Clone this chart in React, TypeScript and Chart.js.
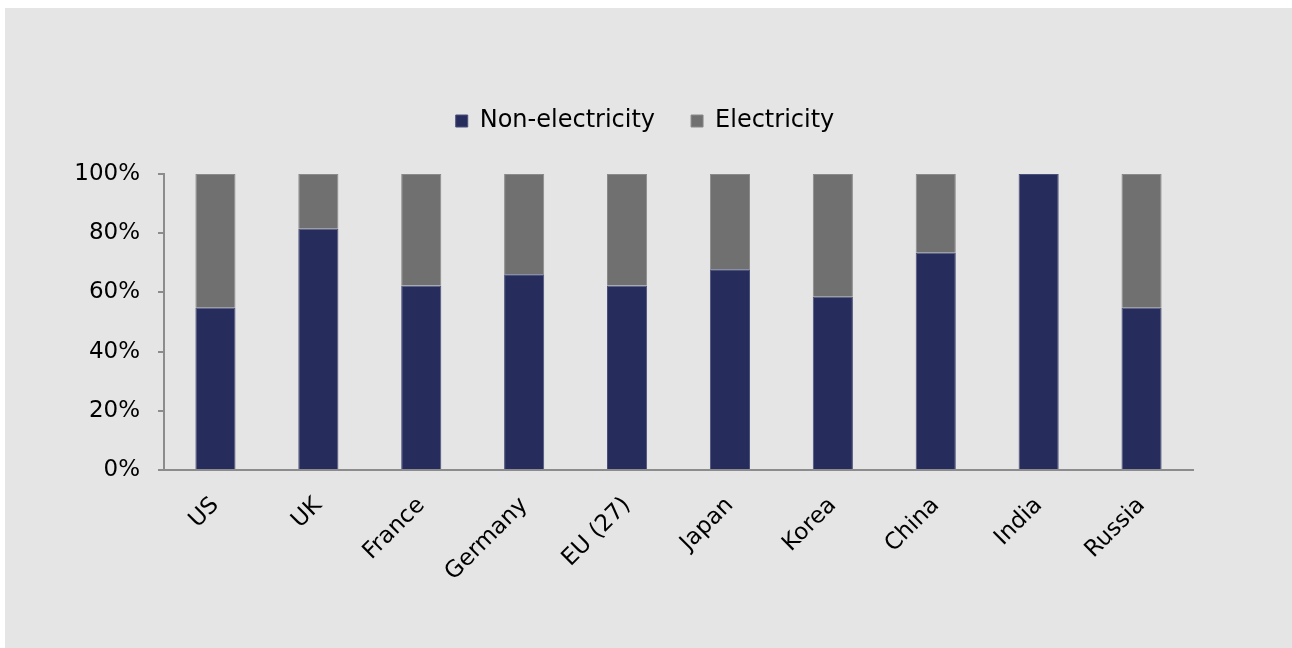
import { useEffect, useRef } from "react";
import { Chart, registerables } from "chart.js";

Chart.register(...registerables);

const categories = ["US", "UK", "France", "Germany", "EU (27)", "Japan", "Korea", "China", "India", "Russia"];
const nonElectricity = [54.8, 81.5, 62.3, 66.1, 62.3, 67.8, 58.5, 73.4, 100, 54.8];
const electricity = [45.2, 18.5, 37.7, 33.9, 37.7, 32.2, 41.5, 26.6, 0, 45.2];
const yTicks = [0, 20, 40, 60, 80, 100];

const FONT = "'DejaVu Sans', sans-serif";
const LEGEND_EXTRA = 31;
const LEGEND_SHIFT_X = 46;

const legendSpacer = {
  id: "legendSpacer",
  beforeUpdate(chart: any) {
    const lg = chart.legend;
    if (lg && !lg._spacerPatched) {
      const orig = lg.fit;
      lg.fit = function (this: any) {
        orig.call(this);
        this.height += LEGEND_EXTRA;
      };
      lg._spacerPatched = true;
    }
  },
  afterLayout(chart: any) {
    const lg = chart.legend;
    if (lg) {
      lg.left += LEGEND_SHIFT_X;
      lg.right += LEGEND_SHIFT_X;
    }
  },
};

export default function App() {
  const ref = useRef<HTMLCanvasElement | null>(null);

  useEffect(() => {
    if (!ref.current) return;
    const chart = new Chart(ref.current, {
      type: "bar",
      plugins: [legendSpacer],
      data: {
        labels: categories,
        datasets: [
          {
            label: "Non-electricity",
            data: nonElectricity,
            backgroundColor: "#262c5c",
            borderColor: "#4a507a",
            borderWidth: 1,
            categoryPercentage: 1,
            barPercentage: 0.39,
          },
          {
            label: "Electricity",
            data: electricity,
            backgroundColor: "#707070",
            borderColor: "#8a8a8a",
            borderWidth: 1,
            categoryPercentage: 1,
            barPercentage: 0.39,
          },
        ],
      },
      options: {
        animation: false,
        responsive: false,
        maintainAspectRatio: false,
        layout: { padding: { top: 65, right: 99, bottom: 0, left: 0 } },
        plugins: {
          tooltip: { enabled: false },
          legend: {
            position: "top",
            labels: {
              color: "#000",
              font: { family: FONT, size: 24 },
              boxWidth: 12,
              boxHeight: 12,
              padding: 36,
            },
          },
        },
        scales: {
          x: {
            stacked: true,
            afterFit: (s: any) => {
              s.height = 178;
            },
            grid: { display: false },
            border: { display: true, color: "#8c8c8c", width: 2 },
            ticks: {
              color: "#000",
              font: { family: FONT, size: 23 },
              maxRotation: 45,
              minRotation: 45,
              padding: 14,
            },
          },
          y: {
            stacked: true,
            min: 0,
            max: 100,
            afterFit: (s: any) => {
              s.width = 159;
            },
            afterBuildTicks: (s: any) => {
              s.ticks = yTicks.map((v) => ({ value: v }));
            },
            grid: {
              drawOnChartArea: false,
              drawTicks: true,
              tickLength: 6,
              color: "#8c8c8c",
              lineWidth: 2,
            },
            border: { display: true, color: "#8c8c8c", width: 2 },
            ticks: {
              color: "#000",
              font: { family: FONT, size: 23 },
              padding: 18,
              callback: (v: any) => v + "%",
            },
          },
        },
      },
    });
    return () => chart.destroy();
  }, []);

  return (
    <div
      style={{
        position: "fixed",
        left: 5,
        top: 8,
        width: 1287,
        height: 640,
        background: "#e5e5e5",
      }}
    >
      <canvas ref={ref} width={1287} height={640} style={{ display: "block" }} />
    </div>
  );
}
